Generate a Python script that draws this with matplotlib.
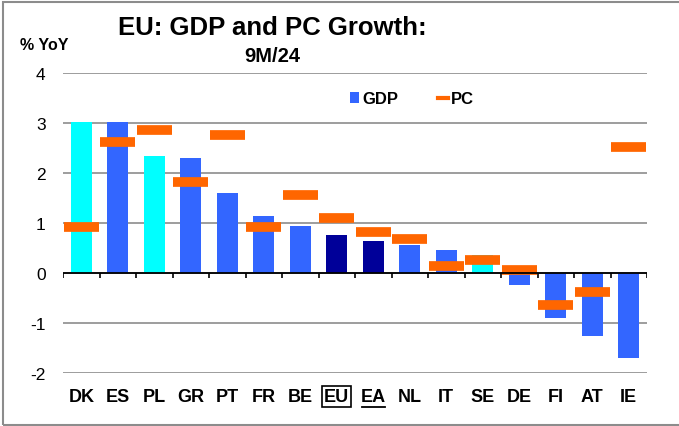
import numpy as np
import matplotlib.pyplot as plt
from matplotlib.patches import Rectangle, Patch
from matplotlib.lines import Line2D
import matplotlib.transforms as mtransforms

plt.rcParams['font.family'] = ['Liberation Sans', 'DejaVu Sans']
plt.rcParams['axes.unicode_minus'] = False

countries = ['DK', 'ES', 'PL', 'GR', 'PT', 'FR', 'BE', 'EU', 'EA',
             'NL', 'IT', 'SE', 'DE', 'FI', 'AT', 'IE']
gdp = [3.03, 3.03, 2.34, 2.31, 1.61, 1.15, 0.94, 0.76, 0.64,
       0.57, 0.46, 0.36, -0.23, -0.90, -1.25, -1.69]
pc = [0.93, 2.63, 2.87, 1.82, 2.76, 0.93, 1.57, 1.10, 0.83,
      0.68, 0.15, 0.26, 0.06, -0.63, -0.38, 2.52]
# non-euro members shown in cyan, aggregates in navy
group = ['non', 'ea', 'non', 'ea', 'ea', 'ea', 'ea', 'agg', 'agg',
         'ea', 'ea', 'non', 'ea', 'ea', 'ea', 'ea']

BLUE = '#3366FF'
CYAN = '#00FFFF'
NAVY = '#000099'
ORANGE = '#FF6600'
col_map = {'ea': BLUE, 'non': CYAN, 'agg': NAVY}

fig = plt.figure(figsize=(6.79, 4.27), dpi=100)
ax = fig.add_axes([63 / 679, 1 - 374 / 427, 584 / 679, 300 / 427])

x = np.arange(len(countries))
ax.bar(x, gdp, width=0.58, color=[col_map[g] for g in group], zorder=3)
ax.errorbar(x, pc, xerr=0.48, fmt='none', ecolor=ORANGE, elinewidth=7,
            capsize=0, zorder=4)

ax.set_xlim(-0.5, len(countries) - 0.5)
ax.set_ylim(-2, 4)
ax.set_yticks(range(-2, 5))
ax.yaxis.grid(True, color='#8c8c8c', linewidth=1.2, zorder=0)
ax.set_axisbelow(True)
for s in ax.spines.values():
    s.set_visible(False)
ax.tick_params(axis='y', length=0, labelsize=12.5, pad=12.5)

# zero line with category separators
ax.axhline(0, color='black', linewidth=1.3, zorder=5)
ax.vlines(np.arange(len(countries) + 1) - 0.5, -0.1, 0, color='black',
          linewidth=1.2, zorder=5)

ax.set_xticks(x)
ax.set_xticklabels(countries, fontsize=13, fontweight='bold')
ax.tick_params(axis='x', length=0, pad=11)
for lbl in ax.get_xticklabels():
    if lbl.get_text() == 'EU':
        lbl.set_bbox(dict(facecolor='none', edgecolor='black', linewidth=1.2,
                          boxstyle='square,pad=0.12'))
trans = mtransforms.blended_transform_factory(ax.transData, fig.transFigure)
ea = countries.index('EA')
ax.plot([ea - 0.32, ea + 0.32], [1 - 408 / 427] * 2, color='black', lw=1.3,
        transform=trans, clip_on=False)

fig.text(272 / 679, 1 - 28 / 427, 'EU: GDP and PC Growth:', ha='center',
         va='center', fontsize=18.5, fontweight='bold')
fig.text(272 / 679, 1 - 57 / 427, '9M/24', ha='center', va='center',
         fontsize=14.5, fontweight='bold')
fig.text(20 / 679, 1 - 45 / 427, '% YoY', ha='left', va='center',
         fontsize=11.5, fontweight='bold')

handles = [Patch(facecolor=BLUE, edgecolor='none'),
           Line2D([0], [0], color=ORANGE, lw=3)]
ax.legend(handles, ['GDP', 'PC'], loc='center left',
          bbox_to_anchor=(350 / 679, 1 - 100 / 427), bbox_transform=fig.transFigure,
          ncol=2, frameon=False, prop={'weight': 'bold', 'size': 12},
          handlelength=0.55, handleheight=0.6, handletextpad=0.2,
          columnspacing=2.4, borderpad=0, borderaxespad=0)

fig.patches.append(Rectangle((2.5 / 679, 1.5 / 427), 1.0, 423 / 427,
                             transform=fig.transFigure, fill=False,
                             edgecolor='#8c8c8c', linewidth=1.5))

fig.savefig('out.png', dpi=100)
